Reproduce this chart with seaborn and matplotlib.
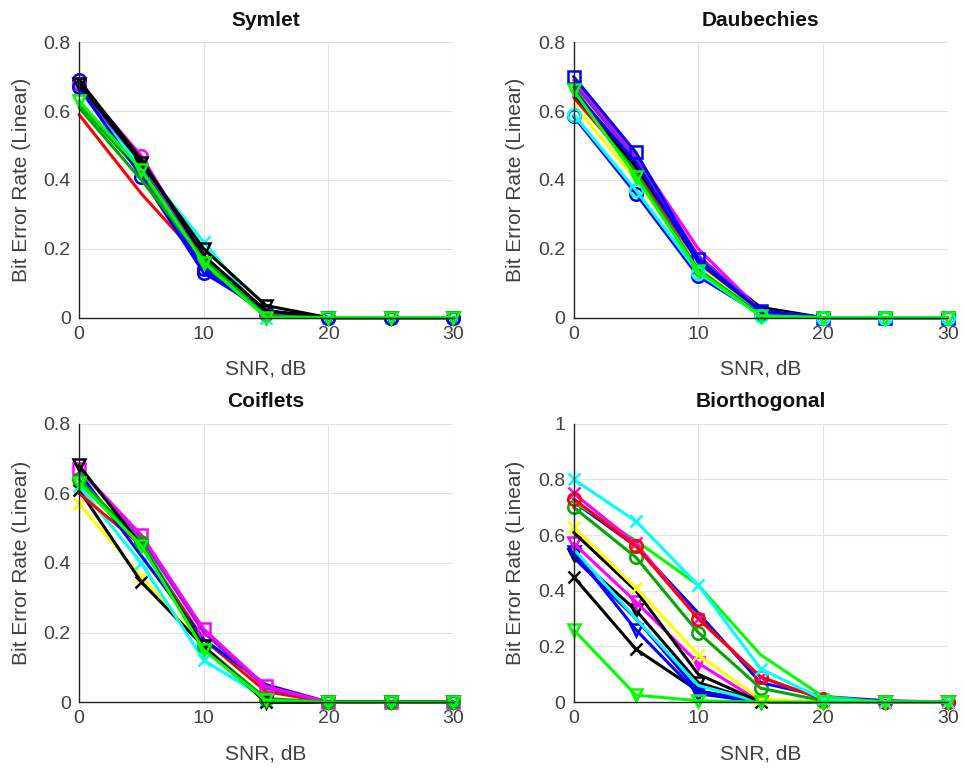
import numpy as np
import pandas as pd
import seaborn as sns
import matplotlib.pyplot as plt
from matplotlib.ticker import FuncFormatter

snr = [0, 5, 10, 15, 20, 25, 30]

# MATLAB-style colours
R, G, LG, B, C, M, Y, K = "#ff0000", "#00a800", "#00ff00", "#0000ff", "#00ffff", "#ff00ff", "#ffff00", "#000000"
V = "#7a2ad0"

# (colour, marker, values) per wavelet order
symlet = [
    (R, "", [0.59, 0.36, 0.16, 0.010, 0, 0, 0]),
    (G, "", [0.62, 0.42, 0.15, 0.005, 0, 0, 0]),
    (B, "o", [0.69, 0.44, 0.14, 0.010, 0, 0, 0]),
    (C, "x", [0.66, 0.44, 0.22, 0.000, 0, 0, 0]),
    (M, "o", [0.68, 0.47, 0.17, 0.010, 0, 0, 0]),
    (V, "", [0.67, 0.45, 0.17, 0.015, 0, 0, 0]),
    (B, "o", [0.67, 0.41, 0.13, 0.020, 0, 0, 0]),
    (K, "", [0.69, 0.46, 0.18, 0.020, 0, 0, 0]),
    (K, "v", [0.68, 0.45, 0.20, 0.035, 0, 0, 0]),
    (G, "", [0.61, 0.40, 0.17, 0.005, 0, 0, 0]),
    (LG, "v", [0.63, 0.43, 0.16, 0.000, 0, 0, 0]),
]

daubechies = [
    (R, "", [0.64, 0.43, 0.16, 0.010, 0, 0, 0]),
    (Y, "", [0.62, 0.40, 0.15, 0.010, 0, 0, 0]),
    (G, "", [0.67, 0.42, 0.14, 0.010, 0, 0, 0]),
    (K, "", [0.65, 0.44, 0.17, 0.030, 0, 0, 0]),
    (M, "", [0.69, 0.47, 0.20, 0.020, 0, 0, 0]),
    (V, "", [0.68, 0.46, 0.18, 0.020, 0, 0, 0]),
    (B, "", [0.66, 0.45, 0.16, 0.020, 0, 0, 0]),
    (B, "s", [0.70, 0.48, 0.17, 0.020, 0, 0, 0]),
    (B, "o", [0.585, 0.36, 0.12, 0.010, 0, 0, 0]),
    (C, "o", [0.59, 0.37, 0.13, 0.005, 0, 0, 0]),
    (LG, "v", [0.66, 0.41, 0.135, 0.005, 0, 0, 0]),
]

coiflets = [
    (Y, "x", [0.57, 0.36, 0.16, 0.000, 0, 0, 0]),
    (K, "x", [0.61, 0.345, 0.16, 0.000, 0, 0, 0]),
    (C, "x", [0.62, 0.40, 0.12, 0.010, 0, 0, 0]),
    (R, "", [0.60, 0.45, 0.18, 0.030, 0, 0, 0]),
    (B, "", [0.66, 0.42, 0.18, 0.050, 0, 0, 0]),
    (V, "", [0.67, 0.47, 0.20, 0.040, 0, 0, 0]),
    (M, "s", [0.67, 0.48, 0.21, 0.045, 0, 0, 0]),
    (G, "o", [0.64, 0.46, 0.16, 0.010, 0, 0, 0]),
    (K, "v", [0.68, 0.45, 0.16, 0.000, 0, 0, 0]),
    (LG, "v", [0.63, 0.45, 0.15, 0.005, 0, 0, 0]),
]

biorthogonal = [
    (K, "x", [0.45, 0.19, 0.04, 0.000, 0, 0, 0]),
    (B, "", [0.52, 0.30, 0.04, 0.000, 0, 0, 0]),
    (K, "v", [0.53, 0.33, 0.07, 0.000, 0, 0, 0]),
    (B, "v", [0.54, 0.26, 0.03, 0.000, 0, 0, 0]),
    (C, "", [0.55, 0.30, 0.06, 0.000, 0, 0, 0]),
    (M, "v", [0.57, 0.36, 0.14, 0.000, 0, 0, 0]),
    (K, "", [0.61, 0.40, 0.10, 0.000, 0, 0, 0]),
    (Y, "x", [0.63, 0.41, 0.17, 0.010, 0, 0, 0]),
    (G, "o", [0.70, 0.52, 0.25, 0.050, 0.005, 0, 0]),
    (B, "", [0.72, 0.56, 0.32, 0.070, 0.020, 0.005, 0]),
    (LG, "", [0.72, 0.58, 0.42, 0.170, 0.020, 0, 0]),
    (M, "x", [0.75, 0.57, 0.30, 0.090, 0.010, 0, 0]),
    (R, "o", [0.73, 0.56, 0.30, 0.090, 0.010, 0, 0]),
    (C, "x", [0.80, 0.65, 0.42, 0.120, 0.010, 0, 0]),
    (LG, "v", [0.26, 0.025, 0.005, 0.000, 0, 0, 0]),
]

panels = [
    ("Symlet", symlet, 0.8),
    ("Daubechies", daubechies, 0.8),
    ("Coiflets", coiflets, 0.8),
    ("Biorthogonal", biorthogonal, 1.0),
]

sns.set_theme(style="white", color_codes=False)
plt.rcParams["font.family"] = ["Liberation Sans", "DejaVu Sans"]

fig = plt.figure(figsize=(9.64, 7.69), dpi=100)
positions = [
    [0.082, 0.587, 0.388, 0.358],
    [0.595, 0.587, 0.388, 0.358],
    [0.082, 0.087, 0.388, 0.362],
    [0.595, 0.087, 0.388, 0.362],
]

fmt = FuncFormatter(lambda v, p: "0" if abs(v) < 1e-9 else ("1" if abs(v - 1) < 1e-9 else f"{v:.1f}"))
txt = "#404040"

for pos, (title, series, ymax) in zip(positions, panels):
    ax = fig.add_axes(pos)
    for color, marker, vals in series:
        df = pd.DataFrame({"snr": snr, "ber": vals})
        sns.lineplot(data=df, x="snr", y="ber", ax=ax, color=color, linewidth=2.2,
                     marker=marker if marker else None, markersize=9,
                     markerfacecolor="none", markeredgecolor=color, markeredgewidth=1.8,
                     clip_on=False)
    ax.set_xlim(0, 30)
    ax.set_ylim(0, ymax)
    ax.set_xticks([0, 10, 20, 30])
    ax.set_yticks(np.arange(0, ymax + 0.01, 0.2))
    ax.yaxis.set_major_formatter(fmt)
    ax.grid(True, color="#e3e3e3", linewidth=0.8)
    ax.set_axisbelow(True)
    for s in ["top", "right"]:
        ax.spines[s].set_visible(False)
    for s in ["left", "bottom"]:
        ax.spines[s].set_color("#222222")
        ax.spines[s].set_linewidth(1.0)
    ax.tick_params(direction="in", length=3, labelsize=14, colors="#222222",
                   labelcolor=txt, pad=6)
    ax.set_title(title, fontsize=15, fontweight="bold", pad=12, color="#111111")
    ax.set_xlabel("SNR, dB", fontsize=15, color=txt, labelpad=12)
    ax.set_ylabel("Bit Error Rate (Linear)", fontsize=15, color=txt, labelpad=9)

fig.savefig("out.png", dpi=100)
